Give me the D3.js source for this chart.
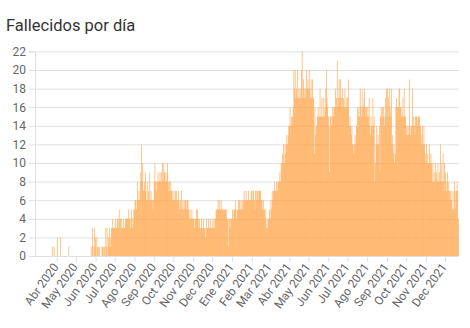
<!DOCTYPE html>
<html><head><meta charset="utf-8">
<script src="https://cdn.jsdelivr.net/npm/d3@7"></script>
<style>html,body{margin:0;padding:0;background:#fff}svg{display:block}</style>
</head><body>
<script>
const chartTitle = "Fallecidos por día";
const startDate = "2020-03-01";
// daily deaths, 2020-03-01 .. 2020-12-31
const deaths2020 = [
 0,0,0,0,0,0,0,0,0,0, 0,0,0,0,0,0,0,0,0,0, 0,0,0,0,1,0,0,1,0,0, 0,
 0,2,0,0,0,0,2,0,0,0, 0,0,0,0,0,0,0,0,0,1, 0,0,0,0,0,0,0,0,0,0,
 0,0,0,0,0,0,0,0,0,0, 0,0,0,0,0,0,0,0,0,0, 0,0,0,0,1,0,3,1,0,3, 1,
 2,0,2,1,0,1,1,0,0,0, 1,1,1,0,1,0,3,1,3,0, 2,1,3,2,1,3,3,4,3,3,
 3,4,3,3,4,4,3,5,4,4, 3,4,3,3,4,3,3,4,4,4, 4,4,5,4,4,3,5,4,3,4, 5,
 5,6,6,5,6,8,6,7,6,8, 9,12,8,10,7,7,8,9,7,6, 8,6,7,6,9,6,7,6,6,5, 6,
 8,10,8,8,7,8,9,8,8,9, 8,9,8,10,8,10,9,9,8,8, 9,10,8,7,8,7,8,7,7,6,
 6,7,6,7,6,7,6,6,7,6, 5,6,5,7,5,6,5,6,5,6, 6,5,6,6,5,4,5,4,4,5, 4,
 4,4,3,4,4,5,4,5,4,3, 4,3,3,4,3,3,4,3,3,2, 3,4,3,3,4,3,3,4,3,3,
 3,4,3,4,3,4,5,5,5,6, 5,6,5,5,6,5,5,5,5,5, 5,5,5,4,4,1,4,4,3,4, 4
];
// daily deaths, 2021-01-01 .. 2021-12-22
const deaths2021 = [
 4,5,4,5,5,6,5,4,5,5, 6,5,6,5,6,5,6,5,6,7, 6,6,7,6,6,6,7,6,6,6, 7,
 7,6,7,7,6,5,7,6,7,7, 6,7,7,7,7,6,6,5,6,5, 5,4,5,3,4,3,4,4,
 5,4,6,5,7,6,7,7,8,7, 7,8,7,8,8,8,9,8,10,10, 11,10,12,10,12,11,12,13,12,13, 14,
 14,16,14,15,14,15,16,20,18,20, 17,18,17,20,17,18,17,18,17,20, 22,17,19,18,17,18,17,20,18,19,
 18,20,18,17,19,17,19,17,17,11, 16,13,14,14,15,16,15,15,18,15, 15,17,15,15,17,15,16,18,20,17, 16,
 15,14,9,15,15,14,15,16,15,16, 16,18,16,17,21,16,17,19,17,19, 16,17,18,16,17,16,18,16,17,16,
 17,16,19,14,15,14,13,14,12,12, 11,12,13,12,14,14,16,15,16,15, 18,16,15,18,16,16,17,18,16,15, 16,
 15,16,15,17,14,13,15,14,14,17, 14,15,8,10,12,14,12,13,12,14, 9,15,16,15,16,15,16,14,15,17, 18,
 15,18,17,15,18,16,15,18,12,13, 11,12,10,11,16,17,16,16,16,18, 18,16,16,15,15,17,15,18,15,15,
 13,14,13,14,13,19,14,13,14,14, 18,14,15,14,13,15,15,15,14,15, 15,15,14,14,12,13,14,12,14,12, 11,
 10,12,10,11,10,10,12,10,11,10, 8,10,8,9,8,10,8,9,8,10, 8,9,8,12,8,10,8,11,8,10,
 7,9,7,8,9,7,8,7,6,7, 6,7,5,5,7,8,5,7,7,8, 7,4
];
const yTicks = [0,2,4,6,8,10,12,14,16,18,20,22];
const monthNames = ["Ene","Feb","Mar","Abr","May","Jun","Jul","Ago","Sep","Oct","Nov","Dec"];
const firstTickMonth = "2020-04-01";
const lastTickMonth = "2021-12-01";

const W = 470, H = 328;
const parse = d3.utcParse("%Y-%m-%d");
const start = parse(startDate);
const values = deaths2020.concat(deaths2021);
const data = values.map((v, i) => ({date: d3.utcDay.offset(start, i), value: v}));

const svg = d3.select("body").append("svg").attr("width", W).attr("height", H);

const x = d3.scaleUtc()
  .domain([parse("2020-02-27"), parse("2021-12-23")])
  .range([35, 459]);
const y = d3.scaleLinear().domain([0, 22]).range([256, 51.4]);
const step = x(d3.utcDay.offset(start, 1)) - x(start);

// title
svg.append("text").attr("x", 6).attr("y", 31)
  .attr("font-family", "Roboto, sans-serif").attr("font-size", 16.5)
  .attr("fill", "#333").text(chartTitle);

// y grid
const yAxis = d3.axisLeft(y).tickValues(yTicks).tickSize(6).tickPadding(3);
const gy = svg.append("g").attr("transform", "translate(35,0)").call(yAxis);
gy.select(".domain").attr("stroke", "#e0e0e0");
gy.selectAll(".tick line").attr("stroke", "#e0e0e0").attr("x2", 459 - 35).attr("x1", -6);
gy.selectAll(".tick text").attr("font-family", "Roboto, sans-serif").attr("font-size", 12).attr("fill", "#666");

// bars
svg.append("g").selectAll("rect").data(data).join("rect")
  .attr("x", d => x(d.date) - step / 2)
  .attr("width", step * 1.05)
  .attr("y", d => y(d.value))
  .attr("height", d => y(0) - y(d.value))
  .attr("fill", "rgb(255,162,68)")
  .attr("fill-opacity", 0.9);

// x axis
const months = d3.utcMonth.range(parse(firstTickMonth), d3.utcDay.offset(parse(lastTickMonth), 1));
const xAxis = d3.axisBottom(x).tickValues(months).tickSize(6).tickPadding(0)
  .tickFormat(d => monthNames[d.getUTCMonth()] + " " + d.getUTCFullYear());
const gx = svg.append("g").attr("transform", "translate(0,256)").call(xAxis);
gx.select(".domain").attr("stroke", "#e0e0e0").attr("d", "M35,0.5H459");
gx.selectAll(".tick line").attr("stroke", "#e0e0e0");
gx.selectAll(".tick text")
  .attr("font-family", "Roboto, sans-serif").attr("font-size", 12).attr("fill", "#666")
  .attr("text-anchor", "end").attr("dy", null).attr("y", 0)
  .attr("transform", "translate(2,11) rotate(-54)");
</script>
</body></html>
